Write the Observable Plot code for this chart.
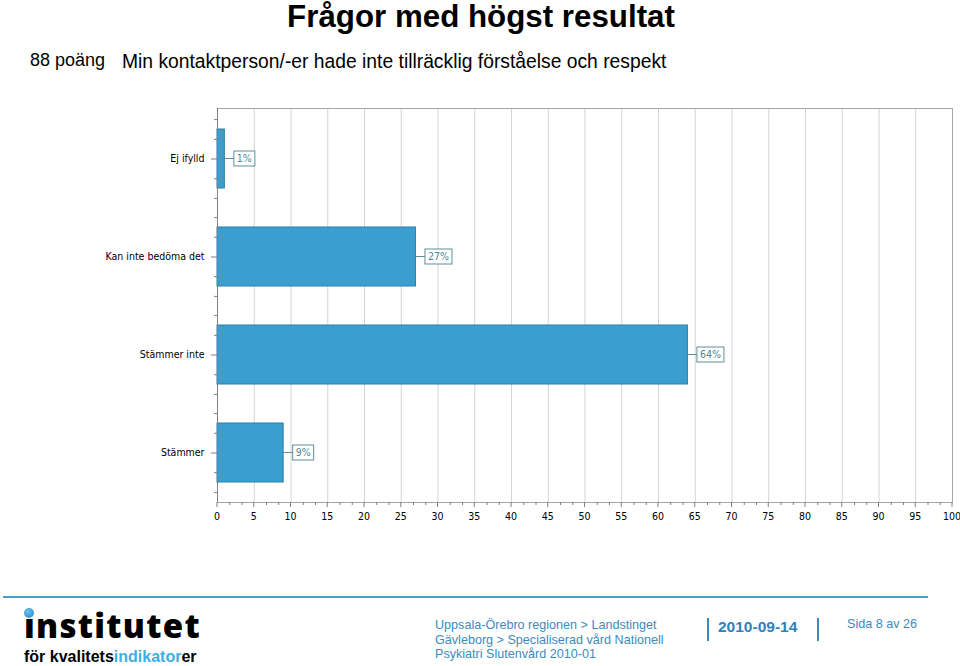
<!DOCTYPE html>
<html>
<head>
<meta charset="utf-8">
<script src="https://cdn.jsdelivr.net/npm/d3@7"></script>
<script src="https://cdn.jsdelivr.net/npm/@observablehq/plot@0.6"></script>
<style>
  body { margin: 0; background: #fff; }
  #page { position: relative; width: 960px; height: 666px; overflow: hidden; background: #fff;
          font-family: "Liberation Sans", Arial, sans-serif; color: #000; }
  .abs { position: absolute; white-space: nowrap; }
  #title { top: 1px; left: 0; width: 962px; text-align: center; font-weight: bold; font-size: 31.3px; line-height: 31.3px; }
  #score { top: 51px; left: 30px; font-size: 18px; line-height: 18px; }
  #question { top: 51.5px; left: 122px; font-size: 19.3px; line-height: 19.3px; }
  #chart { position: absolute; top: 90px; left: 0; }
  #hr { position: absolute; top: 596px; left: 3px; width: 925px; height: 2px; background: #4a9cc7; }
  #logo1 { top: 609px; left: 24px; font-family: "Open Sans", sans-serif; font-weight: 800; font-size: 33px; line-height: 33px; letter-spacing: 1.3px; }
  #dot { position: absolute; left: 24px; top: 608px; width: 10px; height: 10px; border-radius: 50%;
         background: radial-gradient(circle at 40% 35%, #6cc0f0, #2a82c4); }
  #logo2 { top: 649px; left: 24px; font-weight: bold; font-size: 16px; line-height: 16px; }
  #logo2 .hl { color: #41aee3; }
  .ft { font-size: 12.6px; line-height: 14.5px; color: #3a8cc0; }
  #where { top: 618px; left: 435px; }
  #date { top: 619.4px; left: 718px; font-weight: bold; font-size: 15.5px; line-height: 15.5px; color: #2f82b8; }
  .vbar { position: absolute; top: 618px; width: 2px; height: 23px; background: #3a8cc0; }
  #page-no { top: 617px; left: 847px; }
</style>
</head>
<body>
<div id="page">
  <div id="title" class="abs">Frågor med högst resultat</div>
  <div id="score" class="abs">88 poäng</div>
  <div id="question" class="abs">Min kontaktperson/-er hade inte tillräcklig förståelse och respekt</div>
  <div id="chart"></div>
  <div id="hr"></div>
  <div id="logo1" class="abs">ınstitutet</div>
  <div id="dot"></div>
  <div id="logo2" class="abs">för kvalitets<span class="hl">indikator</span>er</div>
  <div id="where" class="abs ft">Uppsala-Örebro regionen &gt; Landstinget<br>Gävleborg &gt; Specialiserad vård Nationell<br>Psykiatri Slutenvård 2010-01</div>
  <div class="vbar" style="left:707px"></div>
  <div id="date" class="abs">2010-09-14</div>
  <div class="vbar" style="left:817px"></div>
  <div id="page-no" class="abs ft">Sida 8 av 26</div>
</div>
<script>
// ---- data ----
const categories = ["Ej ifylld", "Kan inte bedöma det", "Stämmer inte", "Stämmer"];
const values = [1, 27, 64, 9];
const valueLabels = ["1%", "27%", "64%", "9%"];
const xTicks = [0, 5, 10, 15, 20, 25, 30, 35, 40, 45, 50, 55, 60, 65, 70, 75, 80, 85, 90, 95, 100];
const gridTicks = xTicks.filter(t => t > 0 && t < 100);
const minorXTicks = d3.range(0, 61).filter(i => i % 3 !== 0).map(i => i * 5 / 3);

const data = categories.map((c, i) => ({ category: c, value: values[i], label: valueLabels[i] }));

const W = 960, H = 450, mTop = 18, mBottom = 38, mLeft = 217, mRight = 8;
const minorStep = (H - mTop - mBottom) / categories.length / 5;
const font = "'DejaVu Sans Condensed', 'DejaVu Sans', sans-serif";

const minorY = [-2, -1, 1, 2].map(k =>
  Plot.axisY({ tickSize: 3, dy: k * minorStep, tickFormat: () => "", stroke: "#808080", label: null }));

const chart = Plot.plot({
  width: W, height: H,
  marginTop: mTop, marginBottom: mBottom, marginLeft: mLeft, marginRight: mRight,
  style: { fontFamily: font, fontSize: "10.5px", color: "#000", background: "transparent", overflow: "visible" },
  x: { domain: [0, 100], label: null },
  y: { domain: categories, paddingInner: 0.4, paddingOuter: 0.2, label: null },
  marks: [
    Plot.gridX(gridTicks, { stroke: "#d3d3d3", strokeOpacity: 1 }),
    Plot.frame({ stroke: "#a6a6a6" }),
    Plot.barX(data, { x: "value", y: "category", fill: "#3a9fd0", stroke: "#2c7ea8", strokeWidth: 1 }),
    Plot.ruleX([0], { stroke: "#808080" }),
    Plot.axisX(minorXTicks, { tickSize: 3, tickFormat: () => "", stroke: "#808080", label: null }),
    Plot.axisX(xTicks, { tickSize: 5, tickPadding: 5, stroke: "#808080", label: null, dx: -0.5 }),
    Plot.axisY({ tickSize: 6, tickPadding: 7, stroke: "#808080", label: null }),
    ...minorY,
    Plot.text(data, { x: "value", y: "category", text: "label", dx: 12, textAnchor: "start", fill: "#4d8793" })
  ]
});

document.getElementById("chart").append(chart);

// value label boxes and connectors
const xs = chart.scale("x"), ys = chart.scale("y");
const textG = chart.querySelector('g[aria-label="text"]');
if (textG) {
  const svgRect = chart.getBoundingClientRect();
  const ns = "http://www.w3.org/2000/svg";
  const boxG = document.createElementNS(ns, "g");
  const texts = textG.querySelectorAll("text");
  texts.forEach((t, i) => {
    const d = data[i];
    const r = t.getBoundingClientRect();
    const barEnd = xs.apply(d.value);
    const cy = ys.apply(d.category) + ys.bandwidth / 2;
    const bx = r.left - svgRect.left - 3;
    const bw = r.width + 6;
    const line = document.createElementNS(ns, "line");
    line.setAttribute("x1", barEnd); line.setAttribute("x2", bx);
    line.setAttribute("y1", cy); line.setAttribute("y2", cy);
    line.setAttribute("stroke", "#5f8f99");
    boxG.append(line);
    const rect = document.createElementNS(ns, "rect");
    rect.setAttribute("x", bx); rect.setAttribute("y", cy - 7.5);
    rect.setAttribute("width", bw); rect.setAttribute("height", 15);
    rect.setAttribute("fill", "#fff"); rect.setAttribute("stroke", "#5f8f99");
    boxG.append(rect);
  });
  textG.parentNode.insertBefore(boxG, textG);
}
</script>
</body>
</html>
